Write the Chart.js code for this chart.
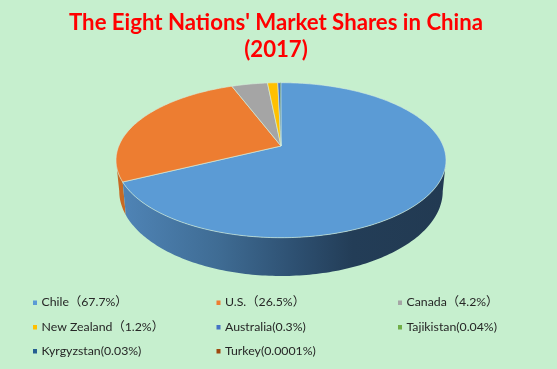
<!DOCTYPE html>
<html>
<head>
<meta charset="utf-8">
<title>Market shares</title>
<script src="https://cdn.jsdelivr.net/npm/chart.js@4/dist/chart.umd.min.js"></script>
<style>
html,body{margin:0;padding:0;background:#C6EFCE;overflow:hidden}
canvas{display:block}
</style>
</head>
<body>
<canvas id="shares" width="557" height="369"></canvas>
<script>
const titleLines = ["The Eight Nations' Market Shares in China", "(2017)"]
const labels = ["Chile（67.7%）", "U.S.（26.5%）", "Canada（4.2%）", "New Zealand（1.2%）",
  "Australia(0.3%)", "Tajikistan(0.04%)", "Kyrgyzstan(0.03%)", "Turkey(0.0001%)"]
const shares = [67.7, 26.5, 4.2, 1.2, 0.3, 0.04, 0.03, 0.0001]
const colors = ["#5B9BD5", "#ED7D31", "#A5A5A5", "#FFC000", "#4472C4", "#70AD47", "#255E91", "#9E480E"]

const fontFamily = 'Lato, "Noto Sans CJK SC", sans-serif'

// perspective of the tilted disc: top face and bottom face of the pie
const topFace = {x:281, y:146, a:162.2, b:74.9, k:0.1832}
const bottomFace = {x:281, y:175.6, a:159, b:82, k:0.1832}

function project(face, angle){
  const u = Math.cos(angle), v = Math.sin(angle)
  const d = 1 - face.k*v
  return [face.x + face.a*u/d, face.y + face.b*v/d]
}

function tracePath(ctx, points){
  ctx.beginPath()
  points.forEach((p,i)=> i===0 ? ctx.moveTo(p[0],p[1]) : ctx.lineTo(p[0],p[1]))
  ctx.closePath()
}

function sidePaint(ctx, i){
  if(i===1) return "#C76A24"
  const g = ctx.createLinearGradient(122,0,442,0)
  g.addColorStop(0, "#4F84B6")
  g.addColorStop(0.3, "#3F6C94")
  g.addColorStop(0.55, "#2D4F70")
  g.addColorStop(0.72, "#233D57")
  g.addColorStop(1, "#223A52")
  return g
}

// pie drawn from the angles Chart.js worked out, seen through the tilt
const tiltedPie = {
  id:"tiltedPie",
  beforeDatasetsDraw(chart){
    const ctx = chart.ctx
    const arcs = chart.getDatasetMeta(0).data
    const step = Math.PI/180
    // rim runs between the two points where the disc is widest
    const rimFrom = Math.asin(topFace.k), rimTo = Math.PI - rimFrom

    ctx.save()
    for(let i=1;i>=0;i--){
      const from = Math.max(arcs[i].startAngle,rimFrom)
      const to = Math.min(arcs[i].endAngle,rimTo)
      const upper = [], lower = []
      for(let t=from;t<to;t+=step){
        upper.push(project(topFace,t))
        lower.unshift(project(bottomFace,t))
      }
      upper.push(project(topFace,to))
      lower.unshift(project(bottomFace,to))
      tracePath(ctx,upper.concat(lower))
      ctx.fillStyle = sidePaint(ctx,i)
      ctx.fill()
    }
    // top face
    arcs.forEach((arc,i)=>{
      const pts = [[topFace.x,topFace.y]]
      for(let t=arc.startAngle;t<arc.endAngle;t+=step) pts.push(project(topFace,t))
      pts.push(project(topFace,arc.endAngle))
      tracePath(ctx,pts)
      ctx.fillStyle = colors[i]
      ctx.fill()
      if(i<5){
        ctx.strokeStyle = "rgba(214,238,220,0.85)"
        ctx.lineWidth = 0.75
        ctx.stroke()
      }
    })
    ctx.restore()
    return false
  }
}

// legend in three fixed columns
const gridLegend = {
  id:"gridLegend",
  afterDraw(chart){
    const ctx = chart.ctx
    const colX = [33, 216.5, 398]
    const rowY = [302.5, 327, 351]
    ctx.save()
    ctx.font = "12.3px " + fontFamily
    ctx.textBaseline = "middle"
    chart.data.labels.forEach((text,i)=>{
      const x = colX[i%3], y = rowY[Math.floor(i/3)]
      ctx.fillStyle = colors[i]
      ctx.fillRect(x, y-2, 4, 4.5)
      ctx.fillStyle = "#262626"
      ctx.fillText(text, x+8.5, y)
    })
    ctx.restore()
  }
}

new Chart(document.getElementById("shares"),{
  type:"pie",
  data:{
    labels:labels,
    datasets:[{data:shares, backgroundColor:colors}]
  },
  options:{
    responsive:false,
    animation:false,
    layout:{padding:{right:5}},
    plugins:{
      legend:{display:false},
      tooltip:{enabled:false},
      title:{
        display:true,
        text:titleLines,
        color:"#FF0000",
        font:{family:fontFamily, size:22.2, weight:"bold", lineHeight:1.216},
        padding:{top:9, bottom:0}
      }
    }
  },
  plugins:[tiltedPie, gridLegend]
})
</script>
</body>
</html>
